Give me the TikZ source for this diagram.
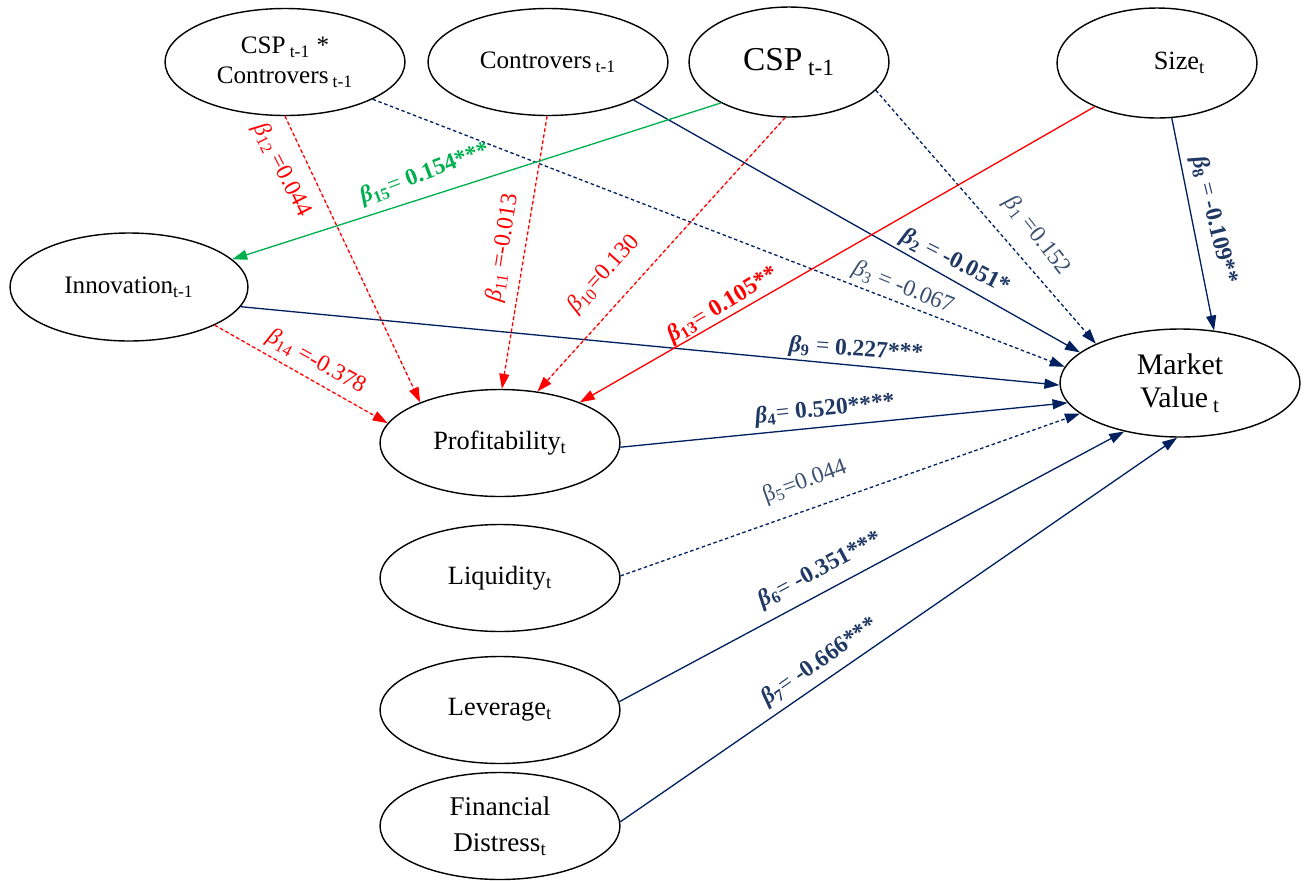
\documentclass[tikz,border=0pt]{standalone}
\usepackage{fontspec}
\setmainfont{Liberation Serif}
\usetikzlibrary{shapes.geometric,arrows.meta}

\definecolor{navy}{HTML}{002060}
\definecolor{navytext}{HTML}{1F3864}
\definecolor{greytext}{HTML}{3B5070}
\definecolor{pathred}{HTML}{FF0000}
\definecolor{pathgreen}{HTML}{00B050}

\newcommand{\sbs}[1]{\textsubscript{#1}}
\newcommand{\bbeta}[1]{\textbf{\textit{β}\textsubscript{#1}}}
\newcommand{\nbeta}[1]{\textit{β}\textsubscript{#1}}

\tikzset{
  var/.style={ellipse, draw=black, line width=0.8pt, minimum width=4.8cm,
    minimum height=2.14cm, inner sep=0pt, align=center,
    font=\fontsize{15}{17}\selectfont},
  narrowtext/.style={font=\fontsize{14.3}{17}\selectfont},
  smallvar/.style={var, minimum width=4cm, minimum height=2.2cm},
  arr/.style={line width=0.75pt, -{Triangle[length=0.3cm,width=0.2cm]}},
  dsh/.style={dash pattern=on 2pt off 1.5pt},
  nv/.style={arr, draw=navy},
  rd/.style={arr, draw=pathred, fill=pathred},
  gr/.style={arr, draw=pathgreen},
  lab/.style={inner sep=0pt, font=\fontsize{13.4}{15}\selectfont},
}

\begin{document}
\begin{tikzpicture}[x=0.02cm, y=-0.02cm]
\useasboundingbox (0,0) rectangle (1309,880);

% variables
\node[var, narrowtext] (cspc) at (285,62) {CSP\,\sbs{t-1} *\\Controvers\,\sbs{t-1}};
\node[var, narrowtext] (contr) at (548,62) {Controvers\,\sbs{t-1}};
\node[smallvar, font=\fontsize{19}{22}\selectfont] (csp) at (789,62) {CSP\,\sbs{t-1}};
\node[smallvar] (size) at (1157,63) {\hspace*{0.9cm}Size\sbs{t}};
\node[var, narrowtext, minimum width=4.76cm, minimum height=2.16cm] (innov) at (129,287) {Innovation\sbs{t-1}};
\node[var] (prof) at (500,443) {Profitability\sbs{t}};
\node[var] (liq) at (500,578) {Liquidity\sbs{t}};
\node[var] (lev) at (500,710) {Leverage\sbs{t}};
\node[var, font=\fontsize{15.4}{20.5}\selectfont] (fin) at (500,826) {Financial\\Distress\sbs{t}};
\node[var, minimum height=2.16cm, font=\fontsize{17}{19}\selectfont] (mv) at (1180,383) {Market\\Value\,\sbs{t}};

% paths into market value
\draw[nv, dsh] (csp.-18) -- (mv.155);
\draw[nv] (contr.-24) -- (mv.163);
\draw[nv, dsh] (cspc.-23) -- (mv.172);
\draw[nv] (prof.-2) -- (mv.190);
\draw[nv, dsh] (liq.1.5) -- (mv.197);
\draw[nv] (lev.4) -- (mv.221);
\draw[nv] (fin.2) -- (mv.267);
\draw[nv] (size.-75) -- (mv.57.5);
\draw[nv] (innov.-10) -- (mv.181);

% paths into profitability
\draw[rd, dsh] (csp.-94) -- (prof.54);
\draw[rd, dsh] (contr.-91) -- (prof.88);
\draw[rd, dsh] (cspc.-90) -- (prof.153);
\draw[rd] (size.215) -- (prof.27);
\draw[rd, dsh] (innov.-24) -- (prof.170);

% path into innovation
\draw[gr, fill=pathgreen] (csp.211) -- (innov.15);

% coefficients
\node[lab, text=pathred, rotate=-63] (l12) at (282,170) {\nbeta{12} =0.044};
\node[lab, text=pathgreen, rotate=21] (l15) at (425,174) {\bbeta{15}= \textbf{0.154***}};
\node[lab, text=pathred, rotate=81] (l11) at (503,248) {\nbeta{11} =-0.013};
\node[lab, text=pathred, rotate=48] (l10) at (604,274) {\nbeta{10}=0.130};
\node[lab, text=pathred, rotate=-29] (l14) at (316,362) {\nbeta{14} =-0.378};
\node[lab, text=pathred, rotate=31] (l13) at (723,305) {\bbeta{13}= \textbf{0.105**}};
\node[lab, text=navytext, rotate=-27] (l2) at (955,262) {\bbeta{2} = \textbf{-0.051*}};
\node[lab, text=greytext, rotate=-22] (l3) at (903,288) {\nbeta{3} = -0.067};
\node[lab, text=greytext, rotate=-52] (l1) at (1037,236) {\nbeta{1} =0.152};
\node[lab, text=navytext, rotate=-4] (l9) at (856,350) {\bbeta{9} = \textbf{0.227***}};
\node[lab, text=navytext, rotate=6] (l4) at (825,410) {\bbeta{4}= \textbf{0.520****}};
\node[lab, text=greytext, rotate=20] (l5) at (805,482) {β\textsubscript{5}=0.044};
\node[lab, text=navytext, rotate=28] (l6) at (820,570) {\bbeta{6}= \textbf{-0.351***}};
\node[lab, text=navytext, rotate=35] (l7) at (820,662) {\bbeta{7}= \textbf{-0.666***}};
\node[lab, text=navytext, rotate=-76] (l8) at (1214,220) {\bbeta{8} = \textbf{-0.109**}};
\end{tikzpicture}
\end{document}
